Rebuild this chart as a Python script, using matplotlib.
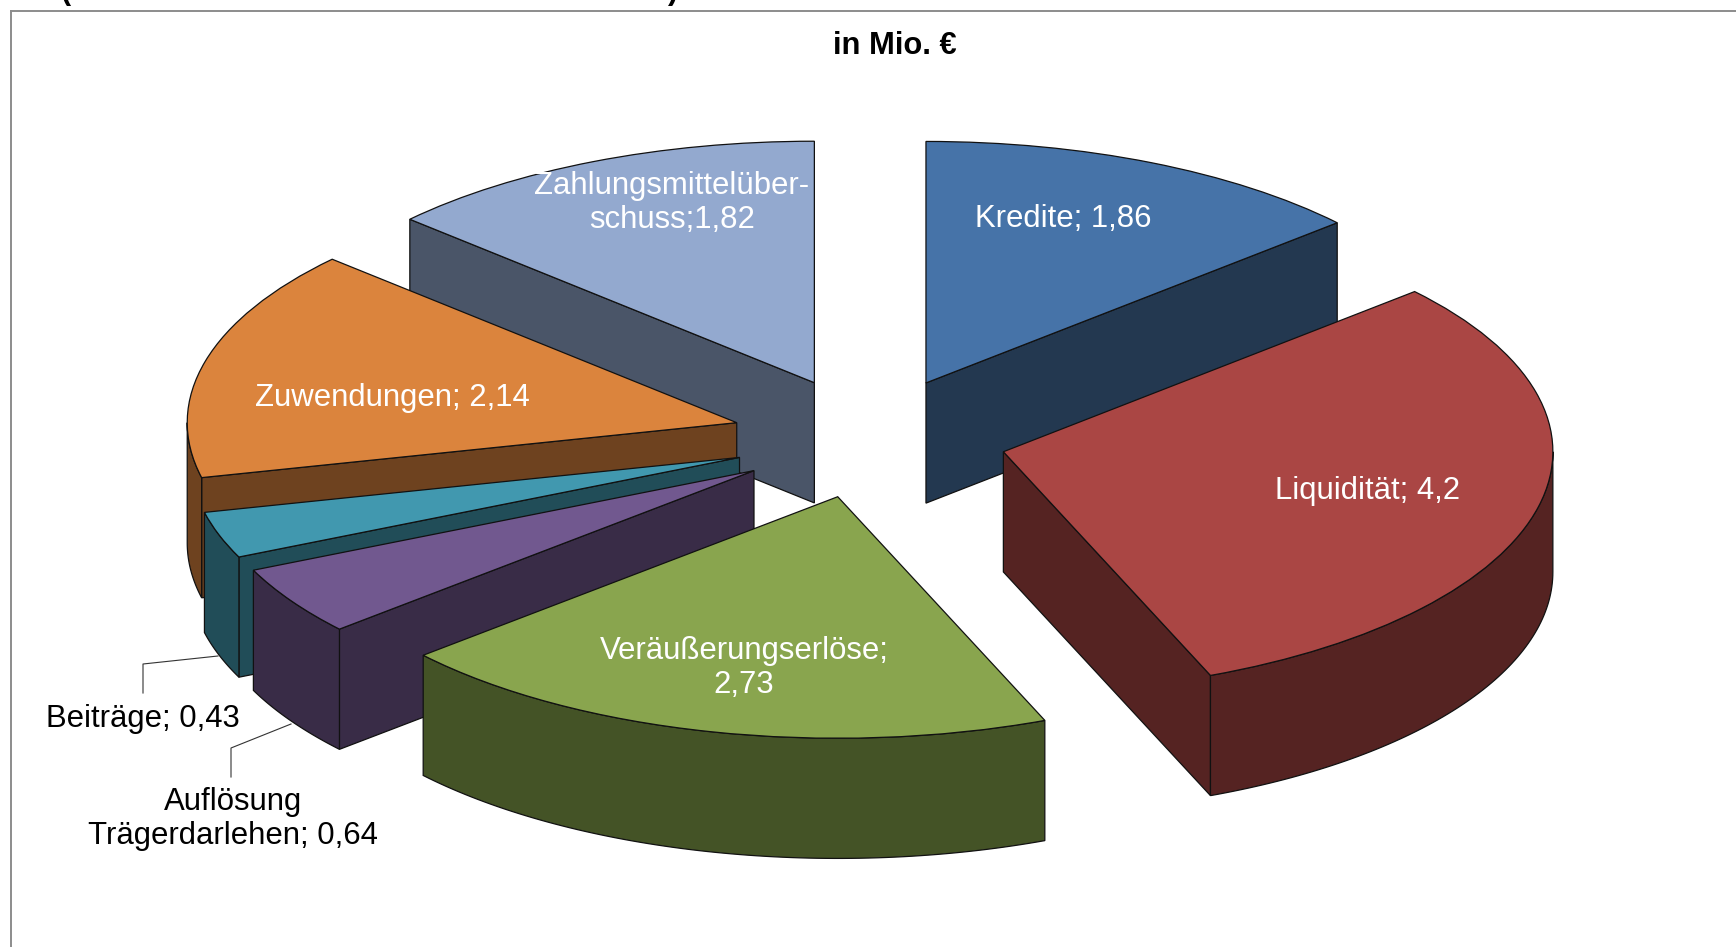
import numpy as np
import matplotlib
matplotlib.use("Agg")
import matplotlib.pyplot as plt
from matplotlib.lines import Line2D

plt.rcParams['font.family'] = ['Liberation Sans', 'DejaVu Sans']

# ---- data ----
names = ["Kredite", "Liquidität", "Veräußerungserlöse", "Auflösung Trägerdarlehen",
         "Beiträge", "Zuwendungen", "Zahlungsmittelüberschuss"]
values = [1.86, 4.2, 2.73, 0.64, 0.43, 2.14, 1.82]
label_texts = ["Kredite; 1,86", "Liquidität; 4,2", "Veräußerungserlöse;\n2,73",
               "Auflösung\nTrägerdarlehen; 0,64", "Beiträge; 0,43",
               "Zuwendungen; 2,14", "Zahlungsmittelüber-\nschuss;1,82"]
title_text = "in Mio. €"

# ---- style ----
top_colors = ["#4673A8", "#AA4644", "#89A54E", "#71588F", "#4198AF", "#DB843D", "#93A9CF"]
side_colors = ["#233850", "#552322", "#445326", "#392C47", "#214D58", "#6E421F", "#4A5568"]
label_colors = ["white", "white", "white", "black", "black", "white", "white"]
label_px = [(1063, 219), (1368, 491), (744, 668), (233, 819), (143, 719), (392, 398), (672, 203)]
draw_order = [0, 6, 5, 1, 4, 3, 2]
EXPLODE = 0.25
DEPTH = 0.4977
W, H = 1736, 947
CX, CY, RX, RY = 869.6, 438.0, 549.5, 241.5
EDGE = "#111111"
LW = 0.9
FS = 22.4

fig = plt.figure(figsize=(W / 100, H / 100), dpi=100, facecolor="white")
ax = fig.add_axes([0, 0, 1, 1])

wedges, _ = ax.pie(values, explode=[EXPLODE] * len(values), colors=top_colors,
                   startangle=90, counterclock=False, radius=1,
                   wedgeprops=dict(edgecolor=EDGE, linewidth=LW))

fracs = np.array(values) / sum(values) * 360.0
ends = np.cumsum(fracs)
starts = ends - fracs


def pt(t):
    r = np.radians(t)
    return np.sin(r), np.cos(r)


for rank, i in enumerate(draw_order):
    t0, t1 = starts[i], ends[i]
    m = np.radians((t0 + t1) / 2)
    ox, oy = EXPLODE * np.sin(m), EXPLODE * np.cos(m)
    z = 10 + rank * 10
    faces = []
    if np.sin(np.radians(t0)) < -1e-6:
        faces.append(t0)
    if np.sin(np.radians(t1)) > 1e-6:
        faces.append(t1)
    for t in faces:
        x, y = pt(t)
        ax.fill([ox, ox + x, ox + x, ox], [oy, oy + y, oy + y - DEPTH, oy - DEPTH],
                facecolor=side_colors[i], edgecolor=EDGE, linewidth=LW, zorder=z)
    a, b = max(t0, 90), min(t1, 270)
    if b > a:
        ts = np.linspace(a, b, 80)
        x, y = pt(ts)
        ax.fill(np.r_[ox + x, ox + x[::-1]], np.r_[oy + y, oy + y[::-1] - DEPTH],
                facecolor=side_colors[i], edgecolor=EDGE, linewidth=LW, zorder=z + 1)
    wedges[i].set_zorder(z + 2)

ax.set_aspect('auto')
ax.set_box_aspect(None)
ax.set_xlim(-CX / RX, (W - CX) / RX)
ax.set_ylim((CY - H) / RY, CY / RY)
ax.set_axis_off()


def fx(px):
    return px / W


def fy(py):
    return 1 - py / H


# frame
for xs, ys in [((10.5, 10.5), (947, 11)), ((10.5, 1736), (11, 11))]:
    fig.add_artist(Line2D([fx(v) for v in xs], [fy(v) for v in ys], color="#8c8c8c", lw=1.4))

# leader lines
for pts in [[(143, 693), (143, 664), (218, 656)], [(231, 777), (231, 748), (291, 724)]]:
    fig.add_artist(Line2D([fx(p[0]) for p in pts], [fy(p[1]) for p in pts],
                          color="#333333", lw=0.8, zorder=0.5))

# labels
for txt, (px, py), c in zip(label_texts, label_px, label_colors):
    ax.figure.text(fx(px), fy(py), txt, color=c, fontsize=FS, ha="center", va="center",
                   linespacing=1.19, zorder=200)

fig.text(fx(895), fy(46), title_text, fontsize=22.2, fontweight="bold", ha="center", va="center")

# clipped heading remnants at the very top edge
fig.text(fx(66), fy(-9), "(", fontsize=22, fontweight="bold", ha="center", va="center")
fig.text(fx(673), fy(-9), ")", fontsize=22, fontweight="bold", ha="center", va="center")

fig.savefig("out.png", dpi=100, facecolor="white")
